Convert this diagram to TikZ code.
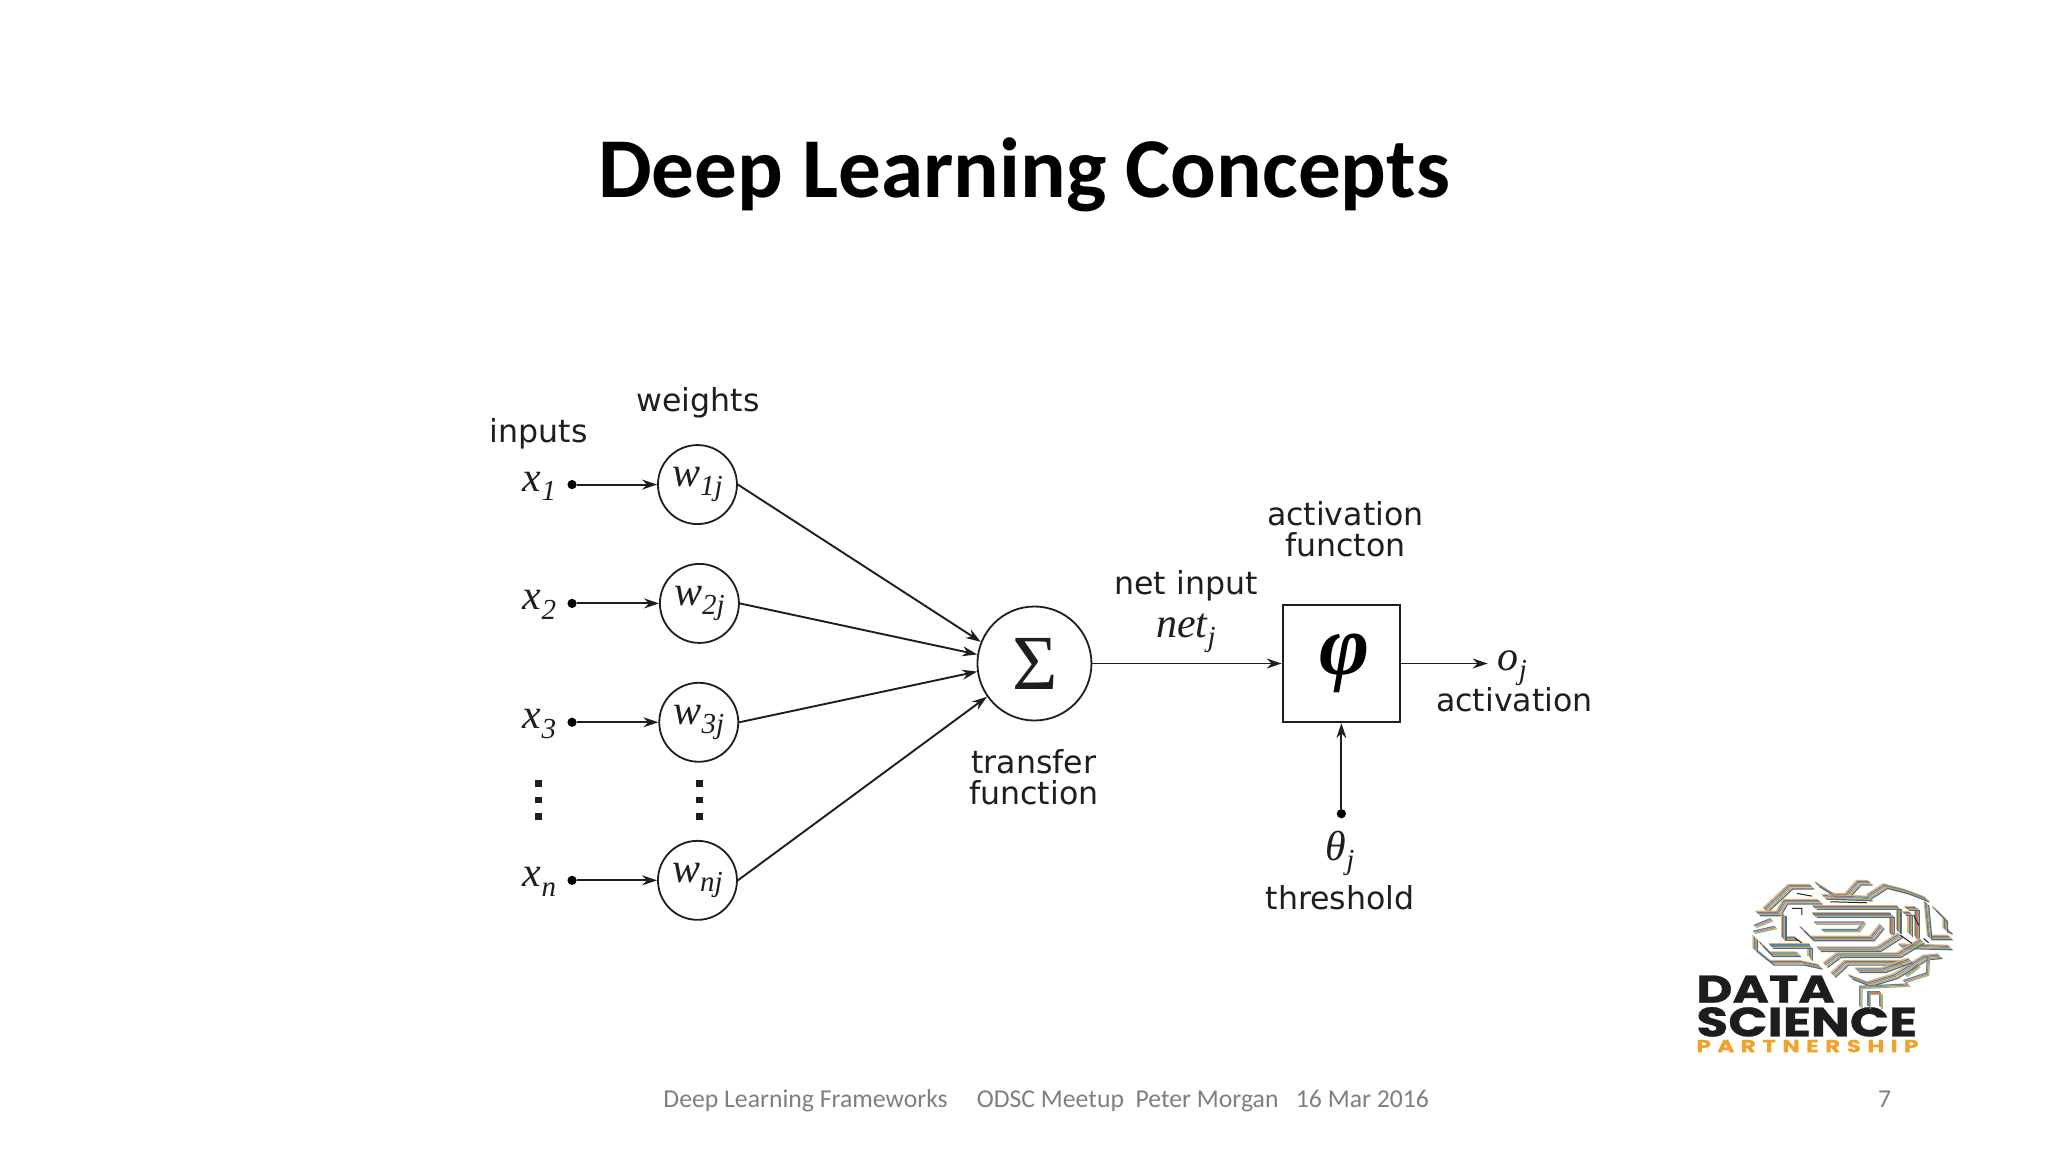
\documentclass[tikz,border=0pt]{standalone}
\usepackage{fontspec}
\setmainfont{Carlito}
\newfontfamily\lab{DejaVu Sans}
\newfontfamily\ser{Liberation Serif}
\newfontfamily\pop{Poppins}[FakeBold=.6]
\usetikzlibrary{arrows.meta}
\definecolor{ink}{HTML}{1E1E1E}
\definecolor{foot}{HTML}{7F7F7F}
\definecolor{lgo}{HTML}{EFA32B}
\definecolor{lbk}{HTML}{1D1D1B}
\definecolor{t1}{HTML}{E8AE62}
\definecolor{t2}{HTML}{4A86B0}
\definecolor{t3}{HTML}{D5746B}
\definecolor{t4}{HTML}{8FC077}
\definecolor{t5}{HTML}{56697E}
\newcommand{\sym}[2]{{\ser\itshape\fontsize{21}{21}\selectfont #1\raisebox{-4.6pt}{\fontsize{14.5}{15}\selectfont #2}}}
\newcommand{\bundle}[1]{\foreach \c [count=\i] in {t1,t2,t3,t4,t5}{\draw[\c,line width=.6pt,shift={(\i*3.4,\i*3.4)}] #1;}}
\newcommand{\thinb}[1]{\foreach \c [count=\i] in {t2,t3,t4}{\draw[\c,line width=.6pt,shift={(\i*3.4,\i*3.4)}] #1;}}
\tikzset{
 lbl/.style={font=\lab\fontsize{15.8}{16}\selectfont,anchor=base,inner sep=0pt,text=ink},
 sy/.style={anchor=base,inner sep=0pt,text=ink},
 wnode/.style={circle,draw=ink,line width=.9pt,minimum size=39.5pt,inner sep=0pt,text=ink},
 src/.style={circle,fill=black,minimum size=4.6pt,inner sep=0pt},
 conn/.style={draw=ink,line width=.95pt,-{Stealth[length=7.5pt,width=5pt]}},
 vdot/.style={fill=ink,draw=none,minimum size=3.4pt,inner sep=0pt},
}
\begin{document}
\begin{tikzpicture}[x=.653pt,y=-.653pt]
\useasboundingbox[fill=white] (0,0) rectangle (1568,882);
\node[anchor=center,inner sep=0pt,font=\fontsize{42.6}{44}\selectfont\bfseries] (title) at (784,134) {Deep Learning Concepts};
% labels
\node[lbl] (inputs) at (412.5,339) {inputs};
\node[lbl] (weights) at (534.5,315) {weights};
\node[lbl] (act1) at (1030,402) {activation};
\node[lbl] (act2) at (1030,426) {functon};
\node[lbl] (net1) at (908,455) {net input};
\node[lbl] (tr1) at (791.5,592) {transfer};
\node[lbl] (tr2) at (791.5,616) {function};
\node[lbl] (act3) at (1159.5,545) {activation};
\node[lbl] (thr) at (1026,696) {threshold};
% symbols
\node[sy] (x1) at (413,376) {\sym{x}{1}};
\node[sy] (x2) at (413,467) {\sym{x}{2}};
\node[sy] (x3) at (413,558) {\sym{x}{3}};
\node[sy] (xn) at (413,679) {\sym{x}{n}};
\node[sy] (netj) at (908,488) {\sym{net}{j}};
\node[sy] (oj) at (1158,513) {\sym{o}{j}};
\node[sy] (thj) at (1026,659) {\sym{θ}{j}};
% circles
\node[wnode] (w1) at (534,371) {\raisebox{-2.4pt}{\sym{w}{1j}}};
\node[wnode] (w2) at (535.5,462) {\raisebox{-2.4pt}{\sym{w}{2j}}};
\node[wnode] (w3) at (535,553) {\raisebox{-2.4pt}{\sym{w}{3j}}};
\node[wnode] (wn) at (534,674) {\raisebox{-2.4pt}{\sym{w}{nj}}};
\node[wnode,minimum size=57pt] (sum) at (792,508) {{\ser\fontsize{39}{39}\selectfont\hspace{1pt}\raisebox{-1pt}{Σ}}};
\node[draw=ink,line width=1.2pt,minimum size=58.5pt,inner sep=0pt] (phi) at (1027,508) {{\ser\itshape\bfseries\fontsize{43}{43}\selectfont\hspace{3pt}\raisebox{-2.5pt}{φ}}};
% sources
\node[src] (s1) at (438,371) {};
\node[src] (s2) at (438,462) {};
\node[src] (s3) at (438,553) {};
\node[src] (sn) at (438,674) {};
\node[src] (st) at (1027,623) {};
\coordinate (oend) at (1139,508);
% connectors
\draw[conn] (s1) -- (w1);
\draw[conn] (s2) -- (w2);
\draw[conn] (s3) -- (w3);
\draw[conn] (sn) -- (wn);
\draw[conn] (w1.east) -- (sum.158);
\draw[conn] (w2.east) -- (sum.171);
\draw[conn] (w3.east) -- (sum.188);
\draw[conn] (wn.east) -- (sum.215);
\draw[conn] (sum) -- (phi);
\draw[conn] (phi) -- (oend);
\draw[conn] (st) -- (phi);
% vertical dots
\foreach \px/\nm in {412.5/a,535.5/b}{
 \foreach \py/\k in {600/1,612.5/2,625/3}{
  \node[vdot] (d\nm\k) at (\px,\py) {};
 }
}
% footer
\node[anchor=base,inner sep=0pt,text=foot,font=\fontsize{12.85}{14}\selectfont] (footer) at (801,848) {Deep Learning Frameworks\ \ \ \ \ ODSC Meetup\ \ Peter Morgan\ \ \ 16 Mar 2016};
\node[anchor=base,inner sep=0pt,text=foot,font=\fontsize{12.85}{14}\selectfont] (page) at (1443,848) {7};
% logo text
\node[anchor=south west,inner sep=0pt,text=lbk] (ldata) at (1298.5,768) {\resizebox{69.2pt}{13.6pt}{\pop\bfseries DATA}};
\node[anchor=south west,inner sep=0pt,text=lbk] (lsci) at (1298.5,794) {\resizebox{110.4pt}{14.6pt}{\pop\bfseries SCIENCE}};
\node[anchor=south west,inner sep=0pt,text=lgo] (lpart) at (1298.5,806) {\resizebox{111pt}{6.2pt}{\pop\bfseries\addfontfeature{LetterSpace=28}PARTNERSHIP}};
% logo brain
\begin{scope}[shift={(1286.4,658.5)},x=.1667pt,y=-.1667pt]
\bundle{(245,140) -- (320,70) -- (385,70)}
\bundle{(222,150) -- (285,150) -- (305,115) -- (410,115)}
\bundle{(400,62) -- (455,97) -- (490,97) -- (525,58) -- (560,58)}
\bundle{(555,100) -- (605,68) -- (670,85) -- (730,108)}
\bundle{(392,132) -- (645,132) -- (645,205)}
\bundle{(392,155) -- (625,155) -- (625,215)}
\bundle{(355,195) -- (385,225) -- (565,225) -- (595,188)}
\bundle{(405,257) -- (585,257) -- (650,215)}
\bundle{(215,222) -- (215,258) -- (265,298) -- (355,298) -- (410,310)}
\bundle{(262,248) -- (380,248) -- (380,285)}
\bundle{(728,118) -- (738,222) -- (800,222)}
\bundle{(752,135) -- (785,168) -- (785,198) -- (800,205)}
\bundle{(668,135) -- (700,135) -- (700,225)}
\bundle{(650,248) -- (800,252)}
\bundle{(425,305) -- (465,275) -- (645,275) -- (715,232)}
\bundle{(448,335) -- (488,298) -- (655,298)}
\bundle{(500,340) -- (555,362) -- (635,338) -- (725,282) -- (770,278)}
\thinb{(665,358) -- (735,335) -- (738,285)}
\thinb{(535,435) -- (535,375) -- (600,372) -- (680,368)}
\thinb{(560,435) -- (560,392) -- (595,392) -- (595,435)}
\bundle{(300,150) -- (300,225) -- (340,225)}
\thinb{(398,182) -- (545,182) -- (528,205) -- (420,205)}
\thinb{(218,192) -- (268,172)}
\thinb{(215,210) -- (280,195)}
\bundle{(232,240) -- (262,272) -- (345,272)}
\bundle{(560,105) -- (420,100) }
\bundle{(520,320) -- (600,320) -- (680,290)}
\thinb{(670,340) -- (710,310)}
\bundle{(660,150) -- (680,150) -- (680,215)}
\draw[lbk,line width=.5pt] (350,100) -- (395,108) (335,145) -- (365,145) -- (365,165) (345,235) -- (365,248) (660,225) -- (695,250) (700,165) -- (715,195) (730,235) -- (745,248) (450,125) -- (560,128);
\end{scope}
\end{tikzpicture}
\end{document}
